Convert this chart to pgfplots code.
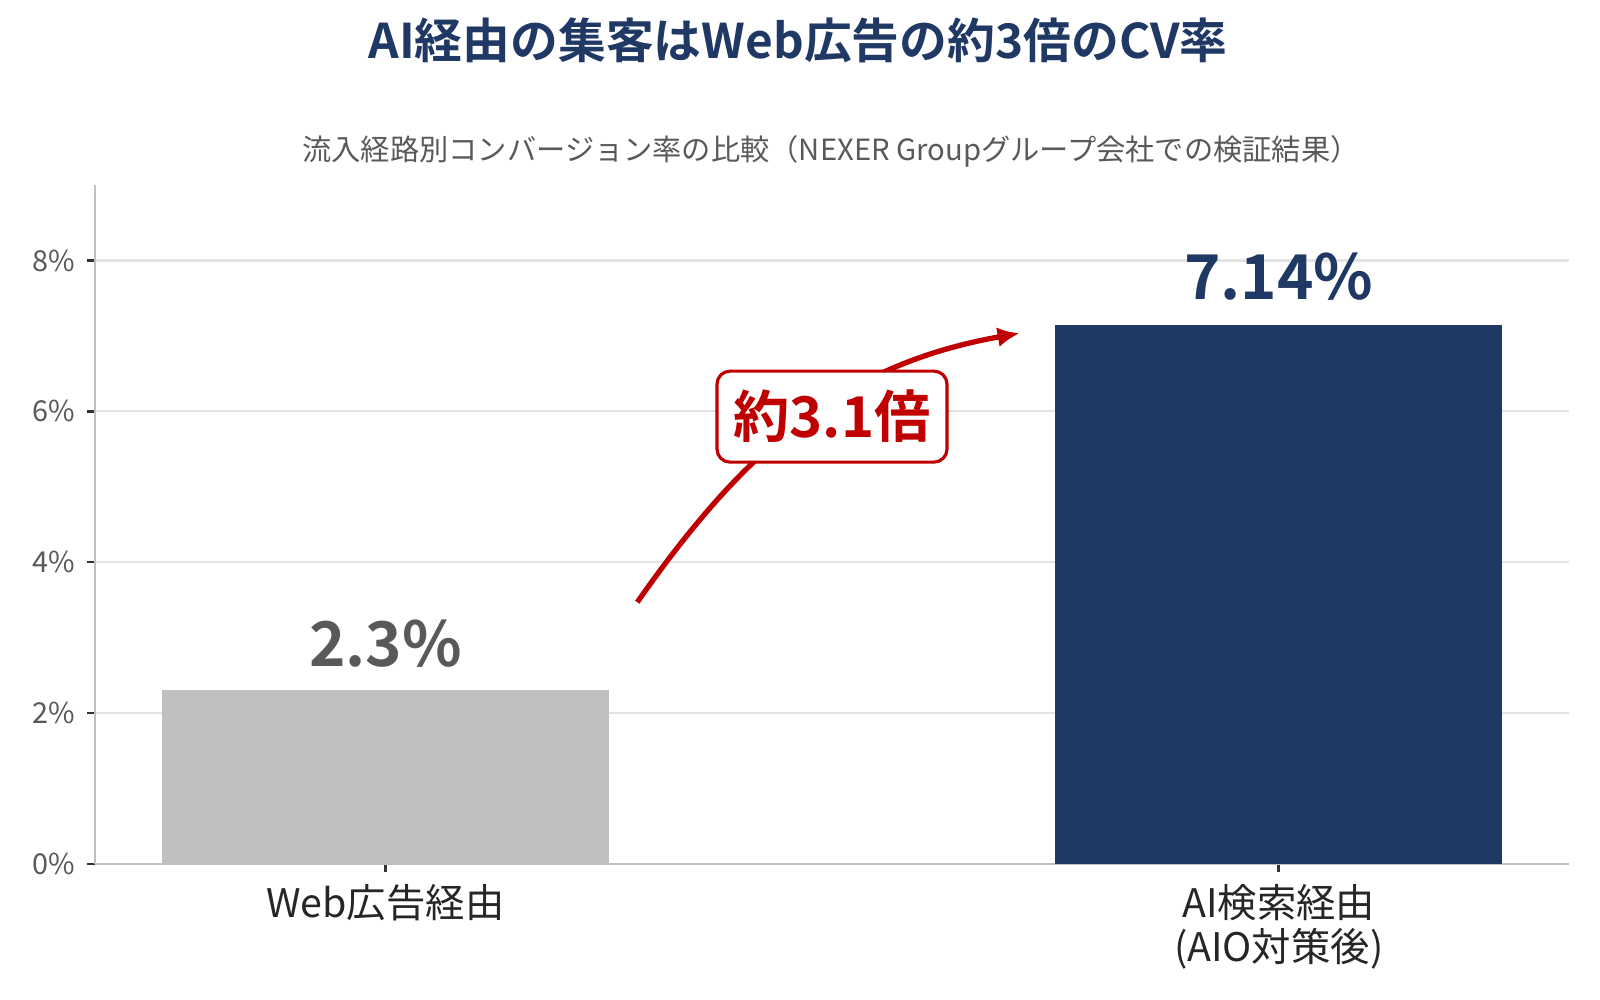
\documentclass[border=0pt]{standalone}
\usepackage{fontspec}
\setmainfont{Noto Sans CJK JP}[BoldFont={Noto Sans CJK JP Bold}]
\usepackage{pgfplots}
\pgfplotsset{compat=1.18}
\usetikzlibrary{arrows.meta}

\definecolor{navy}{HTML}{203864}
\definecolor{barGray}{HTML}{BFBFBF}
\definecolor{callRed}{HTML}{C00000}
\definecolor{tickGray}{HTML}{595959}
\definecolor{gridGray}{HTML}{E3E3E3}
\definecolor{axisGray}{HTML}{BFBFBF}

\begin{document}
\begin{tikzpicture}
\path[use as bounding box] (0,0) rectangle (160mm,100mm);

\begin{axis}[
    at={(9.5mm,13.6mm)}, anchor=south west,
    scale only axis, width=147.4mm, height=67.9mm,
    ybar, bar width=0.5, bar shift=0pt,
    xmin=-0.325, xmax=1.325, ymin=0, ymax=9,
    xtick={0,1},
    xticklabels={Web広告経由,{AI検索経由\\(AIO対策後)}},
    ytick={0,2,4,6,8},
    yticklabel={\pgfmathprintnumber{\tick}\%},
    /pgf/number format/assume math mode=true,
    axis lines=left,
    axis line style={-, axisGray, line width=0.7pt},
    ymajorgrids, grid style={gridGray, line width=0.6pt},
    tick align=outside, major tick length=0.8mm,
    tick style={black!80, line width=0.7pt},
    yticklabel style={font=\fontsize{8.2}{10}\selectfont, text=tickGray},
    xticklabel style={font=\fontsize{11.2}{12.4}\selectfont, text=black!85, align=center},
    nodes near coords={\pgfmathprintnumber{\pgfplotspointmeta}\%},
    nodes near coords align={vertical},
  ]
  \addplot[fill=barGray, draw=none,
    every node near coord/.append style={font=\bfseries\fontsize{17.6}{20}\selectfont, text=tickGray, yshift=1.1mm}]
    coordinates {(0,2.3)};
  \addplot[fill=navy, draw=none,
    every node near coord/.append style={font=\bfseries\fontsize{17.6}{20}\selectfont, text=navy, yshift=1.3mm}]
    coordinates {(1,7.14)};

  % callout arrow, partly hidden behind the label box
  \draw[callRed, line width=1.5pt, -{Latex[length=2.2mm,width=2mm]}]
    (axis cs:0.282,3.47) to[out=55,in=190] (axis cs:0.710,7.035);
  \node[draw=callRed, line width=0.9pt, fill=white, rounded corners=1.3mm,
    text=callRed, font=\bfseries\fontsize{16}{18}\selectfont,
    minimum width=23mm, minimum height=9.1mm, inner sep=0pt]
    at (axis cs:0.5,5.93) {約3.1倍};
\end{axis}

\node[anchor=base, font=\bfseries\fontsize{13.6}{16}\selectfont, text=navy]
  at (79.8mm,94.1mm) {AI経由の集客はWeb広告の約3倍のCV率};
\node[anchor=base, font=\fontsize{8.32}{10}\selectfont, text=tickGray]
  at (83.1mm,83.9mm) {流入経路別コンバージョン率の比較（NEXER Groupグループ会社での検証結果）};
\end{tikzpicture}
\end{document}
